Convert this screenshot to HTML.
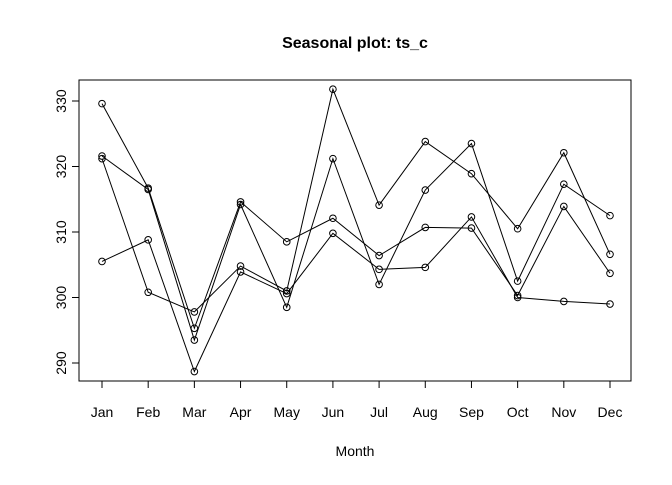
<!DOCTYPE html>
<html><head><meta charset="utf-8"><style>
body{margin:0;background:#fff}
svg text{font-family:"Liberation Sans",Arial,sans-serif;fill:#000}
</style></head><body>
<svg id="chart" width="672" height="480" xmlns="http://www.w3.org/2000/svg">
<text x="355" y="48" font-size="16" font-weight="bold" text-anchor="middle">Seasonal plot: ts_c</text>
<rect x="79" y="80" width="552" height="301" fill="none" stroke="#000"/>
<text x="355" y="456" font-size="14" text-anchor="middle">Month</text>
<g id="axes"></g><g id="series"></g>
</svg>
<script>
const months=["Jan","Feb","Mar","Apr","May","Jun","Jul","Aug","Sep","Oct","Nov","Dec"];
const yTicks=[290,300,310,320,330];
const year1=[329.6,316.7,295.3,314.6,308.5,312.1,306.4,310.7,310.6,300.3,313.9,303.7];
const year2=[321.6,316.5,293.5,314.2,298.5,321.2,302.0,316.4,323.5,302.5,317.3,312.5];
const year3=[321.2,300.8,297.8,304.8,301.0,331.8,314.1,323.8,318.9,310.5,322.1,306.6];
const year4=[305.5,308.8,288.7,303.9,300.6,309.8,304.3,304.6,312.3,300.0,299.4,299.0];
const allSeries=[year1,year2,year3,year4];
const NS="http://www.w3.org/2000/svg";
const xS=i=>102+i*(610-102)/11;
const yS=v=>363-(v-290)*(363-101)/40;
function mk(t,a,p){const e=document.createElementNS(NS,t);for(const k in a)e.setAttribute(k,a[k]);p.appendChild(e);return e;}
const ax=document.getElementById('axes');
const yl=mk('line',{x1:79,x2:79,y1:yS(yTicks[0]),y2:yS(yTicks[yTicks.length-1]),stroke:'#000'},ax);


yTicks.forEach(v=>{
 const t=mk('line',{x1:72,x2:79,y1:yS(v),y2:yS(v),stroke:'#000'},ax);
 
 
 const l=mk('text',{x:66,y:yS(v),'font-size':14,'text-anchor':'middle',transform:`rotate(-90 66 ${yS(v)})`},ax);
 l.textContent=v;
 
 
});
const xl=mk('line',{x1:xS(0),x2:xS(11),y1:381,y2:381,stroke:'#000'},ax);


months.forEach((m,i)=>{
 const t=mk('line',{x1:xS(i),x2:xS(i),y1:381,y2:388,stroke:'#000'},ax);
 
 
 const l=mk('text',{x:xS(i),y:417,'font-size':14,'text-anchor':'middle'},ax);
 l.textContent=m;
 
 
});
const sg=document.getElementById('series');
allSeries.forEach((s,k)=>{
 const pl=mk('polyline',{points:s.map((v,i)=>xS(i)+','+yS(v)).join(' '),fill:'none',stroke:'#000','stroke-width':1},sg);
 
 
 s.forEach((v,i)=>{
  const c=mk('circle',{cx:xS(i),cy:yS(v),r:3.3,fill:'none',stroke:'#000'},sg);
  
  
 });
});
</script>
</body></html>
